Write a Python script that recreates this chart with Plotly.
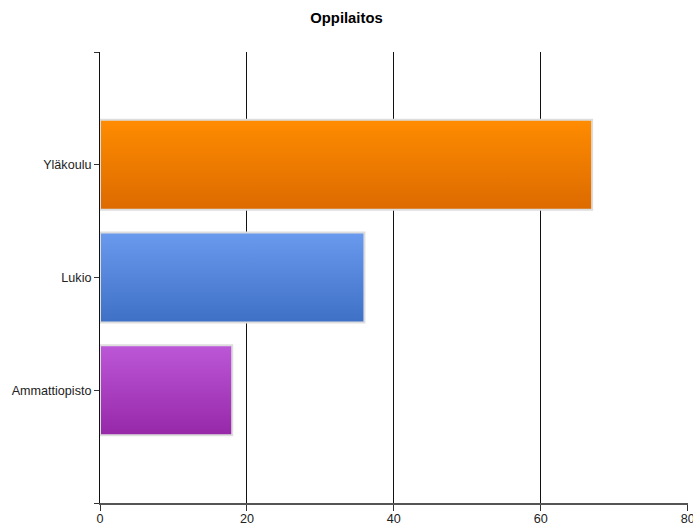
import plotly.graph_objects as go

title = "Oppilaitos"
categories = ["Yläkoulu", "Lukio", "Ammattiopisto"]
values = [67, 36, 18]
top_colors = ["#ff8c00", "#6a9aee", "#bc57d8"]
bottom_colors = ["#dc6a00", "#3e70c6", "#9628a8"]
x_ticks = [0, 20, 40, 60, 80]

fig = go.Figure()
half = 0.4
for i, (cat, v) in enumerate(zip(categories, values)):
    fig.add_trace(go.Scatter(
        x=[0, v, v, 0, 0],
        y=[i - half, i - half, i + half, i + half, i - half],
        mode="lines",
        fill="toself",
        line=dict(color="#dddddd", width=2),
        fillgradient=dict(type="vertical",
                          colorscale=[[0, bottom_colors[i]], [1, top_colors[i]]]),
        hoverinfo="skip",
        showlegend=False,
        name=cat,
    ))

ytickvals = [-1] + list(range(len(categories))) + [len(categories)]
yticktext = [""] + categories + [""]

fig.update_layout(
    width=693, height=527,
    margin=dict(l=100, r=5, t=52, b=24),
    paper_bgcolor="white", plot_bgcolor="white",
    font=dict(family="Liberation Sans, Arial, sans-serif", size=12.6, color="#222222"),
    title=dict(text="<b>" + title + "</b>", x=0.5, xanchor="center", y=0.967, yanchor="middle",
               font=dict(size=14.8, color="#000000")),
    showlegend=False,
)
fig.update_xaxes(
    range=[0, x_ticks[-1] + 0.05], tickvals=x_ticks, ticktext=[str(t) for t in x_ticks],
    showgrid=True, gridcolor="#111111", gridwidth=1,
    showline=True, linecolor="#555555", linewidth=2,
    ticks="outside", ticklen=6, tickcolor="#333333",
    ticklabelstandoff=-3, ticklabeloverflow="allow",
    zeroline=False, fixedrange=True, automargin=False,
)
fig.update_yaxes(
    range=[len(categories), -1], tickvals=ytickvals, ticktext=yticktext,
    showgrid=False, showline=True, linecolor="#111111", linewidth=1,
    ticks="outside", ticklen=5, tickcolor="#333333",
    zeroline=False, fixedrange=True, automargin=False,
)
fig.write_html("out.html", config={"displayModeBar": False},
               post_script="document.body.style.margin='0';document.body.style.overflow='hidden';")
